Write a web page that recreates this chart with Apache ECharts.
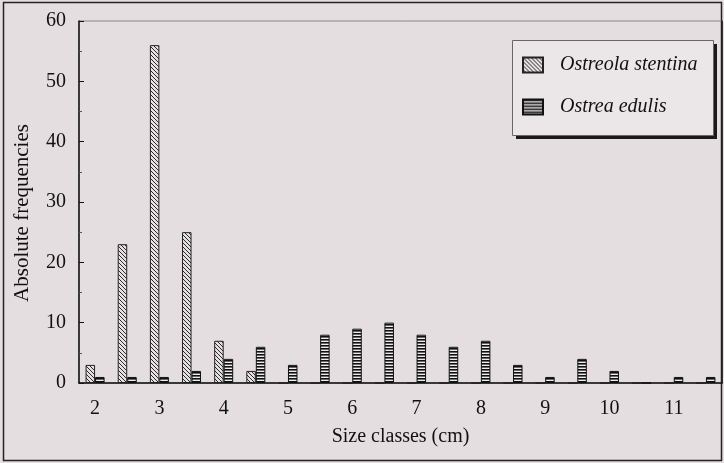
<!DOCTYPE html>
<html><head><meta charset="utf-8">
<script src="https://cdn.jsdelivr.net/npm/echarts@6/dist/echarts.min.js"></script>
<style>html,body{margin:0;padding:0;background:#e4dee1;}#c{width:724px;height:463px;}</style>
</head><body><div id="c"></div>
<script>
const categories = ['2','2.5','3','3.5','4','4.5','5','5.5','6','6.5','7','7.5','8','8.5','9','9.5','10','10.5','11','11.5'];
const ostreolaStentina = [3,23,56,25,7,2,0,0,0,0,0,0,0,0,0,0,0,0,0,0];
const ostreaEdulis = [1,1,1,2,4,6,3,8,9,10,8,6,7,3,1,4,2,0,1,1];
const yTicks = [0,10,20,30,40,50,60];

function hatchPattern(){
  const c=document.createElement('canvas');c.width=4;c.height=4;
  const g=c.getContext('2d');
  g.fillStyle='#e6e0e3';g.fillRect(0,0,4,4);
  g.strokeStyle='#2a2a2a';g.lineWidth=1;
  g.beginPath();g.moveTo(-1,-1);g.lineTo(5,5);g.moveTo(-1,3);g.lineTo(1,5);g.moveTo(3,-1);g.lineTo(5,1);g.stroke();
  return c;
}
function stripePattern(){
  const c=document.createElement('canvas');c.width=4;c.height=3;
  const g=c.getContext('2d');
  g.fillStyle='#f0ecee';g.fillRect(0,0,4,3);
  g.fillStyle='#111';g.fillRect(0,0,4,1.6);
  return c;
}
const chart=echarts.init(document.getElementById('c'));
const serif='"Liberation Serif","DejaVu Serif",serif';
chart.setOption({
  backgroundColor:'#e4dee1',
  animation:false,
  graphic:[
    {type:'rect',shape:{x:3.5,y:2.5,width:718,height:458},style:{fill:'none',stroke:'#222',lineWidth:1.5},z:-1},
    {type:'rect',shape:{x:516,y:44,width:201,height:95},style:{fill:'#1a1a1a'},z:5},
    {type:'rect',shape:{x:512.5,y:40.5,width:201,height:95},style:{fill:'#ebe6e8',stroke:'#666',lineWidth:1},z:6},
    {type:'text',x:22,y:213,rotation:Math.PI/2,style:{text:'Absolute frequencies',font:'21px '+serif,fill:'#111',align:'center',verticalAlign:'middle'},z:6}
  ],
  grid:{left:79,top:21,right:2,bottom:80,show:true,borderColor:'#888',borderWidth:1},
  legend:{
    orient:'vertical',left:522,top:55,z:10,
    padding:0,itemGap:22,itemWidth:20,itemHeight:15,icon:'rect',
    textStyle:{fontFamily:serif,fontStyle:'italic',fontSize:20,color:'#111',padding:[0,0,0,12]},
    data:['Ostreola stentina','Ostrea edulis']
  },
  xAxis:{
    type:'category',data:categories,
    name:'Size classes (cm)',nameLocation:'middle',nameGap:44,
    nameTextStyle:{fontFamily:serif,fontSize:20,color:'#111'},
    axisLine:{lineStyle:{color:'#111',width:1.5}},
    axisTick:{inside:true,length:4,lineStyle:{color:'#111'}},
    axisLabel:{interval:1,margin:16,fontFamily:serif,fontSize:20,color:'#111'}
  },
  yAxis:[{
    type:'value',min:0,max:60,interval:10,
    axisLine:{show:true,lineStyle:{color:'#111',width:1.5}},
    axisTick:{show:true,inside:true,length:5,lineStyle:{color:'#111'}},
    minorTick:{show:true,splitNumber:2,length:3,lineStyle:{color:'#555'}},
    splitLine:{show:false},
    axisLabel:{margin:13,fontFamily:serif,fontSize:20,color:'#111',formatter:v=>yTicks.includes(v)?String(v):''}
  },{
    type:'value',min:0,max:60,interval:10,position:'right',
    axisLine:{show:true,lineStyle:{color:'#111',width:1.5}},
    axisTick:{show:false},axisLabel:{show:false},splitLine:{show:false}
  }],
  series:[
    {name:'Ostreola stentina',type:'bar',data:ostreolaStentina,barWidth:9.5,barGap:'0%',
     itemStyle:{color:{image:hatchPattern(),repeat:'repeat'},borderColor:'#222',borderWidth:1}},
    {name:'Ostrea edulis',type:'bar',data:ostreaEdulis,barWidth:9.5,barGap:'0%',
     itemStyle:{color:{image:stripePattern(),repeat:'repeat'},borderColor:'#111',borderWidth:1}}
  ]
});
</script></body></html>
